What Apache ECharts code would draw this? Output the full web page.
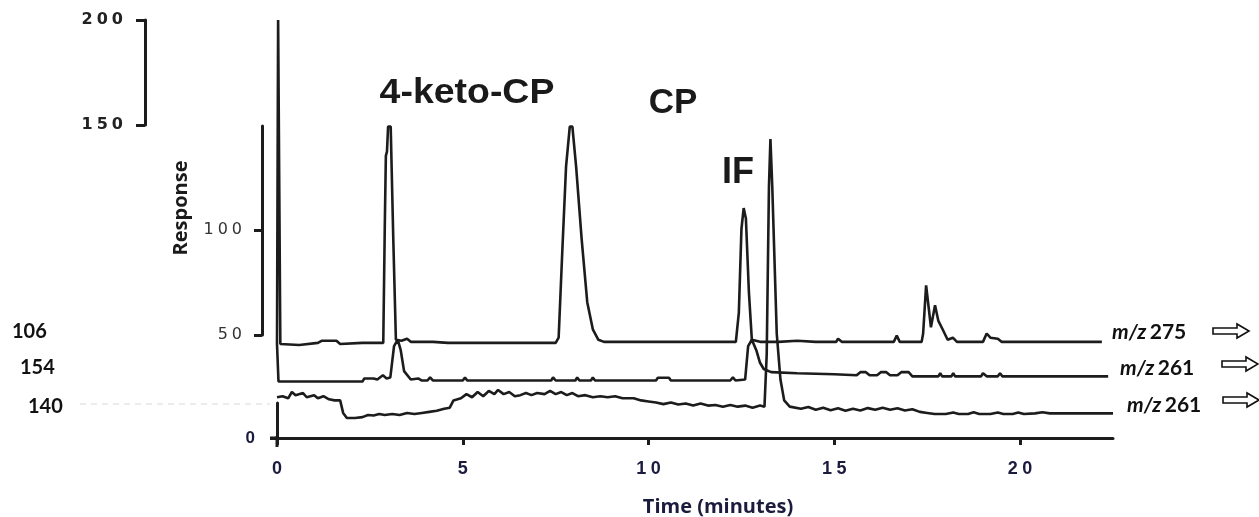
<!DOCTYPE html>
<html>
<head>
<meta charset="utf-8">
<script src="https://cdn.jsdelivr.net/npm/echarts@6/dist/echarts.min.js"></script>
<style>
html,body{margin:0;padding:0;background:#fff;}
#chart{width:1259px;height:517px;}
</style>
</head>
<body>
<div id="chart"></div>
<script>
// ---- data (time in minutes, response units) ----
const xTicks = [0, 5, 10, 15, 20];
const upperTicks = [150, 200];
const middleTicks = [50, 100];
const lowerTicks = [0];

const traceMz275 = [
  [0,45],[0.03,200],[0.09,45],[0.6,44.5],[1.1,45.5],[1.2,46.5],[1.6,46.5],[1.7,45],[2.3,45.5],[2.86,45.5],
  [2.9,100],[2.93,135],[2.96,137],[2.99,149],[3.06,149],[3.13,95],[3.2,47],[3.35,46.5],[3.5,47.5],[3.6,46],
  [4.2,46],[4.6,45.5],[5.2,45.5],[6.0,45.5],[6.8,45.5],[7.5,45.5],[7.58,48],[7.68,90],[7.78,130],[7.88,149],
  [7.95,149],[8.05,130],[8.2,95],[8.35,65],[8.5,52],[8.65,47],[8.8,46],[9.5,46],[10.5,46],[11.5,46],
  [12.35,46],[12.43,60],[12.5,100],[12.56,110],[12.62,105],[12.7,70],[12.78,47],[13.0,46],[13.5,46],[14.0,46.5],
  [14.5,46],[15.05,46],[15.1,47.5],[15.2,46],[16.0,46],[16.6,46],[16.68,49],[16.76,46],[17.35,46],[17.39,50],
  [17.47,73],[17.6,53],[17.71,63.5],[17.8,56],[17.9,52.5],[18.05,47],[18.19,48],[18.3,46],[19.0,46],[19.1,50],
  [19.2,48],[19.4,47.5],[19.5,46],[20.5,46],[21.5,46],[22.2,46]
];

const traceMz261a = [
  [0,45],[0.04,27],[0.5,27],[1.5,27],[2.3,27],[2.35,28.5],[2.6,28.5],[2.7,28],[2.85,30],[2.95,28.5],
  [3.05,29],[3.15,44],[3.25,47],[3.33,42],[3.42,32],[3.6,28],[3.8,28.5],[3.9,27.5],[4.05,27.5],[4.12,29],
  [4.2,27.5],[5.0,27.5],[5.06,29],[5.12,27.5],[6.5,27.5],[7.38,27.5],[7.43,29],[7.5,27.5],[8.03,27.5],[8.08,29],
  [8.14,27.5],[8.45,27.5],[8.5,29],[8.56,27.5],[10.2,27.5],[10.25,28.8],[10.55,28.8],[10.6,27.5],[12.2,27.5],[12.27,29],
  [12.34,27.5],[12.6,28],[12.68,44],[12.78,47],[12.9,42],[13.0,36],[13.1,33],[13.3,31.5],[14.0,31],[15.0,30.5],
  [15.6,30],[15.7,31.5],[15.85,31.5],[15.95,30],[16.15,30],[16.25,31.5],[16.4,31.5],[16.5,30],[16.7,30],[16.8,31.5],
  [17.0,31.5],[17.1,29.5],[17.8,29.5],[17.85,31],[17.9,29.5],[18.15,29.5],[18.2,31],[18.25,29.5],[18.95,29.5],[19.0,31],
  [19.1,29.5],[19.4,29.5],[19.46,31],[19.52,29.5],[22.37,29.5]
];

const traceMz261b = [
  [0,19.5],[0.15,20],[0.3,19],[0.4,22],[0.5,20.5],[0.7,21.5],[0.8,19.5],[1.0,20.5],[1.1,19],[1.25,20],
  [1.4,18.5],[1.55,18],[1.7,18],[1.78,12],[1.88,9.6],[2.1,9.6],[2.3,10],[2.45,11],[2.6,10.8],[2.75,11.5],
  [2.9,11],[3.1,11.5],[3.3,11],[3.5,12],[3.7,11.5],[3.9,12],[4.1,12.5],[4.3,13],[4.5,14],[4.65,14.5],
  [4.75,18],[4.95,19],[5.1,21],[5.25,19.5],[5.4,22],[5.55,20],[5.7,22.5],[5.85,21],[5.95,23],[6.1,21],
  [6.25,22],[6.4,20],[6.55,20.5],[6.7,21.5],[6.85,20.5],[7.0,21.5],[7.2,21],[7.35,22.5],[7.5,21],[7.65,22],
  [7.8,20.5],[7.95,21.5],[8.1,20],[8.3,20.5],[8.5,19.5],[8.7,20],[8.9,19.5],[9.1,20],[9.3,19],[9.6,19],
  [9.8,18],[10.0,17.5],[10.2,17],[10.4,16.2],[10.6,17],[10.8,16],[11.0,16.5],[11.2,15.5],[11.4,16.5],[11.6,15.5],
  [11.8,15.8],[12.0,15],[12.2,15.8],[12.4,15],[12.6,15.5],[12.8,14.5],[13.0,15.5],[13.12,15],[13.18,40],[13.24,120],
  [13.28,143],[13.33,120],[13.45,50],[13.55,28],[13.65,18],[13.8,15],[14.1,14],[14.3,14.8],[14.5,13.5],[14.7,14.5],
  [14.9,13.3],[15.1,14.2],[15.3,13],[15.5,14],[15.7,13.2],[15.9,14.3],[16.1,13.5],[16.3,14.5],[16.5,13.5],[16.7,14.2],
  [16.9,13.2],[17.1,13.8],[17.3,12.5],[17.5,12],[17.7,11.5],[18.0,11.5],[18.2,12.2],[18.35,11.5],[18.6,11.5],[18.75,12.3],
  [18.9,11.5],[19.2,11.5],[19.4,12.2],[19.55,11.5],[19.8,11.5],[19.95,12.2],[20.1,11.5],[20.4,11.8],[20.6,12.3],[20.8,11.8],
  [22.5,11.8]
];

const peakLabels = ['4-keto-CP', 'CP', 'IF'];
const leftLabels = ['106', '154', '140'];
const rightLabels = ['275', '261', '261'];

// ---- chart ----
const ink = '#1c1c1c';
const navy = '#1b1b3e';
const spaced = v => String(v).split('').join('\u2005');

const chart = echarts.init(document.getElementById('chart'), null, {renderer: 'canvas'});

function fragAxis(grid, min, max, ticks, labelColor, labelFont, margin, tickLen) {
  return {
    gridIndex: grid, type: 'value', min: min, max: max,
    axisLine: {show: true, lineStyle: {color: ink, width: 3}},
    axisTick: {show: true, customValues: ticks, length: tickLen, lineStyle: {color: ink, width: 3}},
    axisLabel: Object.assign({customValues: ticks, margin: margin, color: labelColor, formatter: spaced}, labelFont),
    splitLine: {show: false}
  };
}

const arrowPts = (x0, yc) => [[x0, yc-3],[x0+24, yc-3],[x0+24, yc-7],[x0+36, yc],[x0+24, yc+7],[x0+24, yc+3],[x0, yc+3]];

const rightPos = [[1112, 332, 1213, 331], [1120, 368, 1222, 364], [1127, 405, 1223, 400]];
const leftPos = [[12, 332], [20, 368], [28, 407]];

const graphics = [];
graphics.push({type:'line', shape:{x1:80, y1:404, x2:270, y2:404}, style:{stroke:'#d8d8d8', lineWidth:1, lineDash:[6,5]}, silent:true});
graphics.push({type:'line', shape:{x1:270, y1:438, x2:278, y2:438}, style:{stroke:ink, lineWidth:3}, silent:true});
graphics.push({type:'line', shape:{x1:277, y1:436, x2:277, y2:447}, style:{stroke:ink, lineWidth:3}, silent:true});
graphics.push({type:'text', x:467, y:93, scaleX:1.07, style:{text:peakLabels[0], font:'bold 35px "Liberation Sans", Arial, sans-serif', fill:'#1a1a1a', align:'center', verticalAlign:'middle'}});
graphics.push({type:'text', x:673, y:103, style:{text:peakLabels[1], font:'bold 35px "Liberation Sans", Arial, sans-serif', fill:'#1a1a1a', align:'center', verticalAlign:'middle'}});
graphics.push({type:'text', x:738, y:173, style:{text:peakLabels[2], font:'bold 36px "Liberation Sans", Arial, sans-serif', fill:'#1a1a1a', align:'center', verticalAlign:'middle'}});
graphics.push({type:'text', x:181, y:208, rotation:Math.PI/2, style:{text:'Response', font:'bold 20px "Open Sans", sans-serif', fill:'#1a1a1a', align:'center', verticalAlign:'middle'}});
graphics.push({type:'text', x:718, y:507, style:{text:'Time (minutes)', font:'bold 20px "Open Sans", sans-serif', fill:navy, align:'center', verticalAlign:'middle'}});
leftLabels.forEach((t, i) => {
  graphics.push({type:'text', x:leftPos[i][0], y:leftPos[i][1], style:{text:t, font:'bold 20px Lato, sans-serif', fill:'#111', align:'left', verticalAlign:'middle'}});
});
rightLabels.forEach((t, i) => {
  const p = rightPos[i];
  graphics.push({type:'text', x:p[0], y:p[1], style:{
    text:'{i|m/z} {n|' + t + '}', align:'left', verticalAlign:'middle',
    rich:{i:{font:'italic bold 21px Lato, sans-serif', fill:'#111'}, n:{font:'bold 21px Lato, sans-serif', fill:'#111'}}
  }});
  graphics.push({type:'polygon', shape:{points:arrowPts(p[2], p[3])}, style:{fill:'#fff', stroke:'#111', lineWidth:1.6}});
});

const option = {
  animation: false,
  backgroundColor: '#fff',
  grid: [
    {left: 277, right: 146, top: 20, bottom: 79},
    {left: 145, top: 20, height: 105, width: 10},
    {left: 262, top: 126, height: 209, width: 10},
    {left: 277, top: 403, height: 35, width: 10}
  ],
  xAxis: [
    {gridIndex: 0, type: 'value', min: 0, max: 22.5, interval: 5,
     axisLine: {show: true, lineStyle: {color: ink, width: 3}},
     axisTick: {show: true, customValues: xTicks, length: 7, lineStyle: {color: ink, width: 3}},
     axisLabel: {customValues: xTicks, margin: 22, color: navy, fontSize: 18, fontWeight: 'bold', fontFamily: '"Liberation Sans", Arial, sans-serif', formatter: spaced},
     splitLine: {show: false}},
    {gridIndex: 1, type: 'value', show: false, min: 0, max: 1},
    {gridIndex: 2, type: 'value', show: false, min: 0, max: 1},
    {gridIndex: 3, type: 'value', show: false, min: 0, max: 1}
  ],
  yAxis: [
    {gridIndex: 0, type: 'value', min: 0, max: 200, show: false},
    fragAxis(1, 150, 200, upperTicks, '#222', {fontSize: 16, fontWeight: 'bold', fontFamily: '"DejaVu Sans", sans-serif'}, 22, 9),
    fragAxis(2, 50, 149.5, middleTicks, '#333', {fontSize: 16, fontFamily: '"DejaVu Sans", sans-serif'}, 20, 8),
    fragAxis(3, 0, 16.7, lowerTicks, navy, {fontSize: 17, fontWeight: 'bold', fontFamily: '"Liberation Sans", Arial, sans-serif'}, 22, 7)
  ],
  series: [
    {name: 'm/z 275', type: 'line', xAxisIndex: 0, yAxisIndex: 0, data: traceMz275, showSymbol: false, clip: false, lineStyle: {color: ink, width: 2.6}},
    {name: 'm/z 261 (154)', type: 'line', xAxisIndex: 0, yAxisIndex: 0, data: traceMz261a, showSymbol: false, clip: false, lineStyle: {color: ink, width: 2.6}},
    {name: 'm/z 261 (140)', type: 'line', xAxisIndex: 0, yAxisIndex: 0, data: traceMz261b, showSymbol: false, clip: false, lineStyle: {color: ink, width: 2.6}}
  ],
  graphic: graphics
};
chart.setOption(option);
</script>
</body>
</html>
